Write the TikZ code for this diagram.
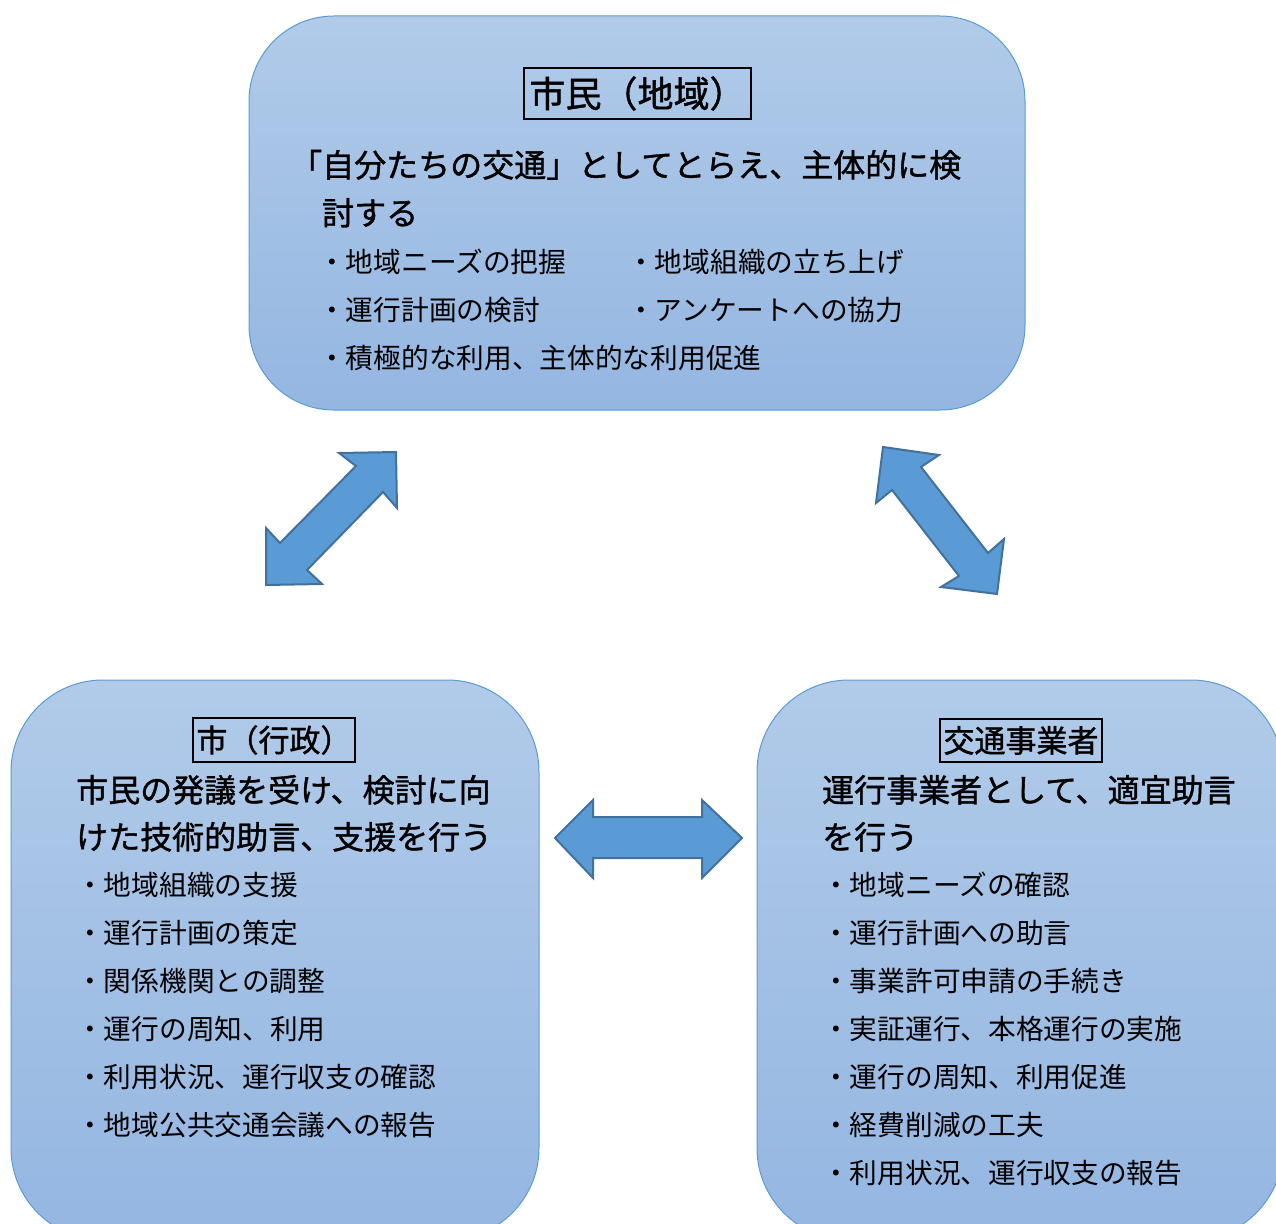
\documentclass[tikz,border=0pt]{standalone}
\usepackage{fontspec}
\newfontfamily\jp{Noto Sans CJK JP}
\newfontfamily\jph[FakeBold=1.2]{Noto Sans CJK JP}
\definecolor{boxtop}{HTML}{B1CBE9}
\definecolor{boxbot}{HTML}{94B6E1}
\definecolor{boxline}{HTML}{5B9BD5}
\definecolor{arrfill}{HTML}{5B9BD5}
\definecolor{arrline}{HTML}{41719C}
\tikzset{
  panel/.style={draw=boxline, line width=1pt, top color=boxtop, bottom color=boxbot, inner sep=0pt},
  titlebox/.style={draw=black, line width=1.3pt, inner sep=0pt, font=\jph\fontsize{#1}{#1}\selectfont},
  headline/.style={anchor=base west, inner sep=0pt, font=\jph\fontsize{32}{32}\selectfont},
  item/.style={anchor=base west, inner sep=0pt, font=\jp\fontsize{27.7}{27.7}\selectfont},
  blockarrow/.style={fill=arrfill, draw=arrline, line width=2pt, line join=miter}
}
\begin{document}
\begin{tikzpicture}[x=1pt,y=-1pt]
\useasboundingbox (0,0) rectangle (1276,1223);
\clip (0,0) rectangle (1276,1223);
% panels
\node[panel, rounded corners=85pt, minimum width=776pt, minimum height=394pt] (top) at (637,213) {};
\node[panel, rounded corners=92pt, minimum width=528pt, minimum height=560pt] (left) at (275,960) {};
\node[panel, rounded corners=92pt, minimum width=526pt, minimum height=560pt] (right) at (1020,960) {};
% top panel text
\node[titlebox=36, minimum width=227pt, minimum height=51pt] (ttitle) at (637.5,93.5) {市民（地域）};
\node[headline] (th1) at (290,177) {「自分たちの交通」としてとらえ、主体的に検};
\node[headline] (th2) at (322,225) {討する};
\node[item] (t1) at (318,272) {・地域ニーズの把握};
\node[item] (t2) at (627,272) {・地域組織の立ち上げ};
\node[item] (t3) at (318,320) {・運行計画の検討};
\node[item] (t4) at (627,320) {・アンケートへの協力};
\node[item] (t5) at (318,368) {・積極的な利用、主体的な利用促進};
% left panel text
\node[titlebox=31, minimum width=162pt, minimum height=44pt] (ltitle) at (274,740) {市（行政）};
\node[headline] (lh1) at (76,802) {市民の発議を受け、検討に向};
\node[headline] (lh2) at (76,849) {けた技術的助言、支援を行う};
\node[item] (l1) at (76,895) {・地域組織の支援};
\node[item] (l2) at (76,943) {・運行計画の策定};
\node[item] (l3) at (76,991) {・関係機関との調整};
\node[item] (l4) at (76,1039) {・運行の周知、利用};
\node[item] (l5) at (76,1087) {・利用状況、運行収支の確認};
\node[item] (l6) at (76,1135) {・地域公共交通会議への報告};
% right panel text
\node[titlebox=31, minimum width=162pt, minimum height=43pt] (rtitle) at (1021,740.5) {交通事業者};
\node[headline] (rh1) at (822,802) {運行事業者として、適宜助言};
\node[headline] (rh2) at (822,849) {を行う};
\node[item] (r1) at (822,895) {・地域ニーズの確認};
\node[item] (r2) at (822,943) {・運行計画への助言};
\node[item] (r3) at (822,991) {・事業許可申請の手続き};
\node[item] (r4) at (822,1039) {・実証運行、本格運行の実施};
\node[item] (r5) at (822,1087) {・運行の周知、利用促進};
\node[item] (r6) at (822,1135) {・経費削減の工夫};
\node[item] (r7) at (822,1183) {・利用状況、運行収支の報告};
% block arrows
\draw[blockarrow] (396,452) -- (397,508) -- (383,492) -- (307,570) -- (322,584) -- (266,585) -- (266,528) -- (280,543) -- (356,466) -- (339,453) -- cycle;
\draw[blockarrow] (883,447) -- (939,455) -- (921,467) -- (988,553) -- (1004,539) -- (997,594) -- (941,587) -- (959,576) -- (892,490) -- (876,503) -- cycle;
\draw[blockarrow] (555,838) -- (593,800) -- (593,817) -- (702,817) -- (702,800) -- (742,838) -- (702,878) -- (702,858) -- (593,858) -- (593,878) -- cycle;
\end{tikzpicture}
\end{document}
